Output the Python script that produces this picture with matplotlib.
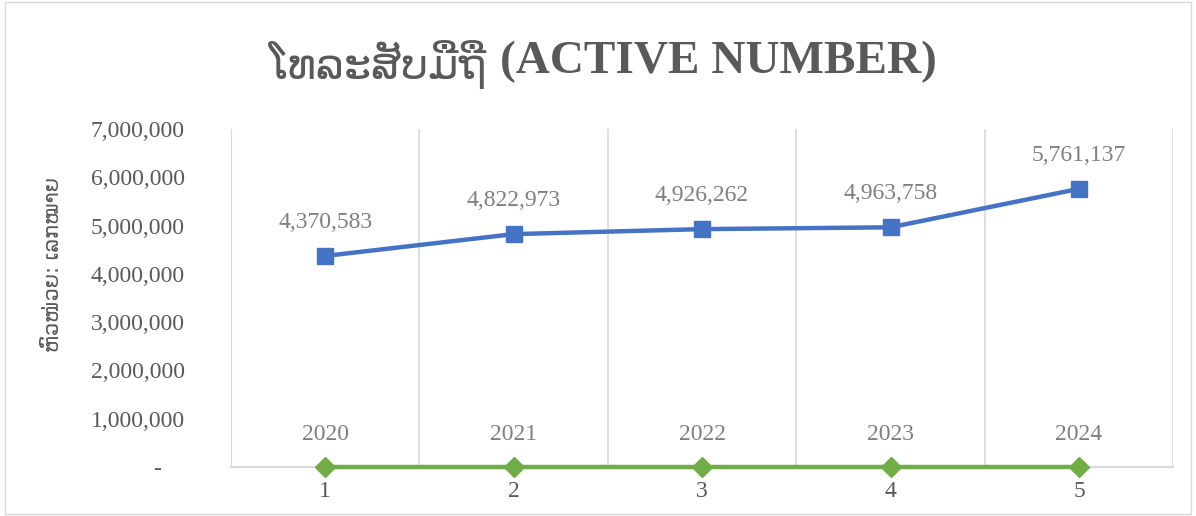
import matplotlib
matplotlib.use("Agg")
import matplotlib.pyplot as plt
from matplotlib.patches import Rectangle

# data
positions = [1, 2, 3, 4, 5]
years = [2020, 2021, 2022, 2023, 2024]
active_numbers = [4370583, 4822973, 4926262, 4963758, 5761137]
y_ticks = [0, 1000000, 2000000, 3000000, 4000000, 5000000, 6000000, 7000000]

title_lao = "ໂທລະສັບມືຖື"
title_en = "(ACTIVE NUMBER)"
y_label = "ຫົວໜ່ວຍ: ເລກໝາຍ"

fonts = ["Liberation Serif", "DejaVu Sans"]
plt.rcParams["font.family"] = fonts
text_grey = "#595959"
label_grey = "#7f7f7f"

fig = plt.figure(figsize=(11.96, 5.16), dpi=100)
ax = fig.add_axes([0.193, 0.095, 0.788, 0.655])

ax.plot(positions, active_numbers, color="#4472C4", linewidth=3.2,
        marker="s", markersize=12, zorder=3)
ax.plot(positions, years, color="#70AD47", linewidth=3.2,
        marker="D", markersize=10, zorder=3, clip_on=False)

for x, v in zip(positions, active_numbers):
    ax.annotate(f"{v:,}", (x, v), xytext=(0, 24), textcoords="offset points",
                ha="center", va="center", fontsize=17, color=label_grey)
for x, v in zip(positions, years):
    ax.annotate(str(v), (x, v), xytext=(0, 23), textcoords="offset points",
                ha="center", va="center", fontsize=17, color=label_grey)

ax.set_xlim(0.5, 5.5)
ax.set_ylim(0, 7000000)
ax.set_xticks(positions)
ax.set_xticklabels([str(p) for p in positions])
ax.set_yticks(y_ticks)
ax.set_yticklabels([f"{t:,}" if t else "-    " for t in y_ticks])
ax.tick_params(axis="y", length=0, pad=33, labelsize=17, labelcolor=text_grey)
ax.tick_params(axis="x", length=0, pad=10, labelsize=17, labelcolor=text_grey)

# category gridlines between the points
for b in [1.5, 2.5, 3.5, 4.5, 5.5]:
    ax.axvline(b, color="#d9d9d9", linewidth=1.2, zorder=1)

for side in ["top", "right"]:
    ax.spines[side].set_visible(False)
ax.spines["left"].set_color("#d9d9d9")
ax.spines["bottom"].set_color("#d9d9d9")
ax.spines["bottom"].set_linewidth(1.5)

ax.set_ylabel(y_label, fontsize=15, color=text_grey, family=["DejaVu Sans"])
ax.yaxis.set_label_coords(-0.178, 0.6)

# title in two parts: Lao text in regular weight, English in bold serif
fig.text(487 / 1196, 0.875, title_lao, ha="right", va="center", fontsize=31,
         color=text_grey, family=["DejaVu Sans"])
fig.text(500 / 1196, 0.88, title_en, ha="left", va="center", fontsize=34,
         fontweight="bold", color=text_grey)

fig.patches.append(Rectangle((0.004, 0.004), 0.992, 0.992, transform=fig.transFigure,
                             fill=False, edgecolor="#d9d9d9", linewidth=1))

fig.savefig("out.png", dpi=100)
